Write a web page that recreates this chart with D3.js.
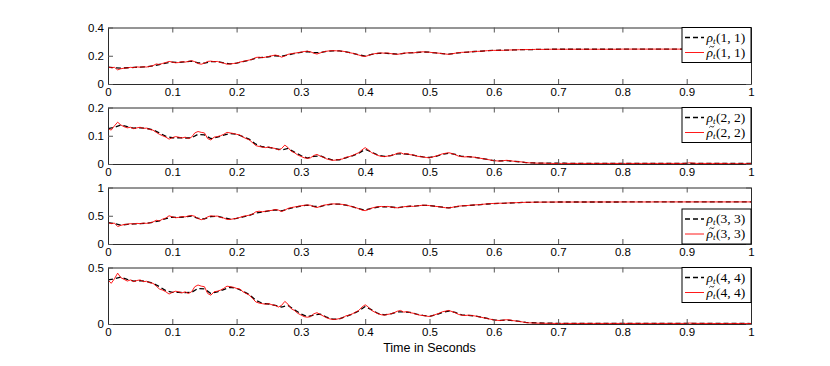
<!DOCTYPE html>
<html>
<head>
<meta charset="utf-8">
<script src="https://cdn.jsdelivr.net/npm/d3@7.9.0/dist/d3.min.js"></script>
<style>
  body { margin: 0; background: #fff; }
  svg { display: block; }
  .tick text { font-family: "Liberation Sans", Arial, sans-serif; font-size: 11.5px; fill: #000; }
  .legend text { font-family: "Liberation Serif", "DejaVu Serif", serif; font-size: 13.5px; fill: #000; }
</style>
</head>
<body>
<svg id="chart" width="830" height="366"></svg>
<script>
// time grids (seconds)
const tRed = d3.range(201).map(i => i / 200);
const tBlack = d3.range(101).map(i => i / 100);

// estimated rho_t(k,k) (black dashed), sampled every 0.01 s
const rho11 = [
  0.12,0.115,0.112,0.115,0.117,0.12,0.122,0.128,0.138,0.148,
  0.155,0.153,0.157,0.162,0.15,0.148,0.158,0.158,0.15,0.143,
  0.148,0.158,0.168,0.183,0.188,0.193,0.2,0.196,0.206,0.216,
  0.224,0.23,0.222,0.222,0.231,0.235,0.234,0.228,0.218,0.206,
  0.198,0.21,0.217,0.218,0.215,0.211,0.217,0.221,0.223,0.227,
  0.225,0.22,0.215,0.211,0.217,0.223,0.226,0.23,0.232,0.236,
  0.238,0.239,0.24,0.241,0.243,0.244,0.244,0.245,0.245,0.246,
  0.246,0.246,0.246,0.246,0.246,0.246,0.246,0.246,0.246,0.246,
  0.247,0.247,0.247,0.247,0.247,0.247,0.247,0.247,0.247,0.247,
  0.247,0.247,0.247,0.247,0.247,0.247,0.247,0.247,0.247,0.247,
  0.247
];
const rho22 = [
  0.125,0.13,0.138,0.132,0.127,0.128,0.126,0.121,0.11,0.098,
  0.093,0.093,0.092,0.093,0.105,0.103,0.09,0.095,0.102,0.108,
  0.105,0.097,0.087,0.07,0.061,0.059,0.055,0.05,0.055,0.042,
  0.03,0.021,0.027,0.029,0.02,0.014,0.015,0.022,0.029,0.038,
  0.052,0.042,0.031,0.027,0.03,0.036,0.036,0.034,0.029,0.025,
  0.023,0.027,0.034,0.038,0.034,0.027,0.026,0.024,0.02,0.016,
  0.012,0.011,0.012,0.01,0.008,0.005,0.004,0.003,0.003,0.003,
  0.003,0.003,0.002,0.002,0.002,0.002,0.002,0.002,0.002,0.002,
  0.002,0.002,0.002,0.002,0.002,0.002,0.002,0.002,0.002,0.002,
  0.002,0.002,0.002,0.002,0.002,0.002,0.002,0.002,0.002,0.002,
  0.002
];
const rho33 = [
  0.38,0.36,0.335,0.348,0.355,0.36,0.366,0.385,0.41,0.45,
  0.475,0.47,0.48,0.495,0.455,0.445,0.485,0.49,0.465,0.44,
  0.452,0.48,0.505,0.55,0.565,0.585,0.605,0.585,0.62,0.65,
  0.672,0.688,0.665,0.662,0.692,0.708,0.704,0.688,0.66,0.625,
  0.6,0.63,0.655,0.66,0.655,0.642,0.658,0.668,0.673,0.685,
  0.68,0.666,0.652,0.64,0.658,0.673,0.68,0.69,0.698,0.708,
  0.716,0.72,0.723,0.728,0.733,0.737,0.739,0.74,0.741,0.742,
  0.743,0.743,0.743,0.743,0.743,0.743,0.743,0.743,0.743,0.743,
  0.744,0.744,0.744,0.744,0.744,0.744,0.744,0.744,0.744,0.744,
  0.745,0.745,0.745,0.745,0.745,0.745,0.745,0.745,0.745,0.745,
  0.745
];
const rho44 = [
  0.39,0.4,0.415,0.395,0.38,0.383,0.377,0.362,0.33,0.295,
  0.28,0.28,0.277,0.28,0.315,0.31,0.27,0.285,0.305,0.325,
  0.315,0.29,0.26,0.21,0.183,0.177,0.165,0.15,0.165,0.125,
  0.09,0.063,0.08,0.088,0.06,0.042,0.045,0.066,0.088,0.115,
  0.155,0.125,0.093,0.08,0.09,0.108,0.108,0.102,0.087,0.076,
  0.068,0.082,0.102,0.115,0.102,0.08,0.077,0.072,0.061,0.049,
  0.037,0.032,0.036,0.03,0.023,0.014,0.011,0.009,0.008,0.007,
  0.006,0.006,0.006,0.006,0.006,0.006,0.006,0.006,0.006,0.006,
  0.005,0.005,0.005,0.005,0.005,0.005,0.005,0.005,0.005,0.005,
  0.005,0.005,0.005,0.005,0.005,0.005,0.005,0.005,0.005,0.005,
  0.004
];

// filtered rho~_t(k,k) (red), sampled every 0.005 s
const rhoHat11 = [
  0.12,0.115,0.118,0.10,0.108,0.112,0.114,0.118,0.116,0.121,0.119,0.122,0.12,0.125,0.13,0.142,0.138,0.146,0.152,0.16,
  0.155,0.15,0.152,0.158,0.155,0.16,0.165,0.158,0.145,0.14,0.148,0.16,0.162,0.158,0.16,0.152,0.148,0.14,0.142,0.145,
  0.148,0.155,0.16,0.165,0.17,0.175,0.188,0.19,0.186,0.19,0.195,0.2,0.205,0.2,0.19,0.198,0.21,0.215,0.218,0.222,
  0.225,0.23,0.232,0.228,0.218,0.212,0.22,0.228,0.232,0.235,0.236,0.235,0.234,0.232,0.228,0.222,0.218,0.212,0.205,0.198,
  0.195,0.202,0.21,0.215,0.218,0.22,0.218,0.22,0.215,0.212,0.21,0.214,0.218,0.22,0.222,0.22,0.224,0.226,0.228,0.226,
  0.225,0.222,0.22,0.218,0.215,0.212,0.21,0.214,0.218,0.222,0.224,0.225,0.226,0.228,0.23,0.231,0.232,0.234,0.236,0.237,
  0.238,0.238,0.239,0.238,0.24,0.241,0.241,0.242,0.243,0.243,0.244,0.244,0.244,0.245,0.245,0.245,0.245,0.246,0.246,0.246,
  0.246,0.246,0.246,0.246,0.246,0.246,0.246,0.246,0.246,0.246,0.246,0.246,0.246,0.246,0.246,0.246,0.246,0.246,0.246,0.246,
  0.247,0.247,0.247,0.247,0.247,0.247,0.247,0.247,0.247,0.247,0.247,0.247,0.247,0.247,0.247,0.247,0.247,0.247,0.247,0.247,
  0.247,0.247,0.247,0.247,0.247,0.247,0.247,0.247,0.247,0.247,0.247,0.247,0.247,0.247,0.247,0.247,0.247,0.247,0.247,0.247,
  0.247
];
const rhoHat22 = [
  0.125,0.12,0.135,0.148,0.138,0.132,0.128,0.13,0.125,0.128,0.13,0.126,0.127,0.122,0.12,0.112,0.105,0.1,0.095,0.088,
  0.093,0.097,0.095,0.092,0.095,0.09,0.095,0.11,0.115,0.112,0.11,0.09,0.085,0.095,0.097,0.1,0.105,0.112,0.11,0.108,
  0.105,0.103,0.095,0.09,0.085,0.075,0.065,0.062,0.06,0.058,0.06,0.057,0.055,0.05,0.055,0.067,0.058,0.045,0.04,0.032,
  0.027,0.022,0.02,0.022,0.03,0.034,0.028,0.024,0.018,0.015,0.013,0.014,0.016,0.018,0.024,0.026,0.03,0.035,0.04,0.05,
  0.058,0.05,0.04,0.035,0.03,0.027,0.026,0.028,0.03,0.033,0.038,0.04,0.035,0.037,0.033,0.032,0.028,0.026,0.025,0.023,
  0.022,0.025,0.028,0.032,0.036,0.038,0.04,0.037,0.033,0.028,0.026,0.025,0.026,0.025,0.024,0.022,0.02,0.018,0.016,0.014,
  0.012,0.011,0.01,0.012,0.013,0.012,0.01,0.009,0.008,0.007,0.005,0.004,0.004,0.003,0.003,0.003,0.003,0.002,0.002,0.002,
  0.002,0.002,0.002,0.002,0.002,0.002,0.002,0.002,0.002,0.002,0.002,0.002,0.002,0.002,0.002,0.002,0.002,0.002,0.002,0.002,
  0.002,0.002,0.002,0.002,0.002,0.002,0.002,0.002,0.002,0.002,0.002,0.002,0.002,0.002,0.002,0.002,0.002,0.002,0.002,0.002,
  0.003,0.004,0.003,0.002,0.002,0.002,0.002,0.002,0.002,0.002,0.002,0.002,0.002,0.001,0.001,0.001,0.001,0.001,0.001,0.001,
  0.001
];
const rhoHat33 = [
  0.38,0.36,0.37,0.31,0.33,0.345,0.35,0.36,0.355,0.365,0.36,0.37,0.365,0.375,0.39,0.42,0.41,0.44,0.46,0.5,
  0.48,0.465,0.47,0.485,0.48,0.495,0.505,0.49,0.45,0.43,0.445,0.48,0.5,0.49,0.495,0.47,0.46,0.435,0.435,0.445,
  0.455,0.47,0.49,0.5,0.51,0.53,0.57,0.58,0.57,0.58,0.59,0.595,0.61,0.6,0.575,0.6,0.63,0.645,0.655,0.665,
  0.675,0.685,0.69,0.685,0.66,0.645,0.665,0.685,0.695,0.705,0.71,0.708,0.705,0.7,0.69,0.675,0.66,0.645,0.625,0.6,
  0.59,0.61,0.635,0.65,0.66,0.665,0.66,0.665,0.655,0.645,0.64,0.648,0.66,0.665,0.67,0.665,0.675,0.68,0.688,0.685,
  0.68,0.672,0.665,0.66,0.65,0.642,0.638,0.648,0.66,0.67,0.675,0.678,0.682,0.688,0.692,0.695,0.7,0.705,0.71,0.715,
  0.718,0.72,0.722,0.72,0.725,0.728,0.73,0.732,0.735,0.736,0.738,0.739,0.74,0.74,0.741,0.741,0.742,0.742,0.743,0.743,
  0.743,0.743,0.743,0.743,0.743,0.743,0.743,0.743,0.743,0.743,0.744,0.744,0.744,0.744,0.744,0.744,0.744,0.744,0.744,0.744,
  0.744,0.744,0.744,0.744,0.744,0.744,0.744,0.744,0.744,0.744,0.745,0.745,0.745,0.745,0.745,0.745,0.745,0.745,0.745,0.745,
  0.745,0.745,0.745,0.745,0.745,0.745,0.745,0.745,0.745,0.745,0.745,0.745,0.745,0.745,0.745,0.745,0.745,0.745,0.745,0.745,
  0.745
];
const rhoHat44 = [
  0.39,0.36,0.4,0.45,0.41,0.395,0.38,0.39,0.375,0.385,0.39,0.375,0.378,0.365,0.36,0.335,0.31,0.3,0.285,0.265,
  0.28,0.29,0.285,0.275,0.285,0.27,0.285,0.33,0.345,0.335,0.33,0.27,0.255,0.285,0.29,0.3,0.315,0.335,0.33,0.325,
  0.315,0.31,0.285,0.27,0.255,0.225,0.195,0.185,0.18,0.175,0.18,0.17,0.165,0.15,0.165,0.2,0.175,0.135,0.12,0.095,
  0.08,0.065,0.06,0.065,0.09,0.1,0.085,0.07,0.055,0.045,0.04,0.042,0.048,0.055,0.072,0.078,0.09,0.105,0.12,0.15,
  0.17,0.15,0.12,0.105,0.09,0.082,0.078,0.085,0.09,0.1,0.113,0.12,0.105,0.11,0.1,0.095,0.085,0.078,0.075,0.07,
  0.066,0.075,0.085,0.095,0.108,0.114,0.12,0.11,0.1,0.085,0.078,0.075,0.078,0.075,0.072,0.066,0.06,0.054,0.048,0.042,
  0.036,0.033,0.03,0.035,0.038,0.036,0.03,0.026,0.022,0.018,0.012,0.01,0.009,0.008,0.007,0.007,0.006,0.006,0.006,0.005,
  0.005,0.005,0.005,0.005,0.005,0.005,0.005,0.005,0.005,0.005,0.005,0.005,0.005,0.005,0.005,0.005,0.005,0.005,0.005,0.005,
  0.005,0.005,0.005,0.005,0.005,0.005,0.005,0.005,0.005,0.005,0.005,0.005,0.005,0.005,0.005,0.005,0.005,0.005,0.005,0.005,
  0.006,0.008,0.006,0.005,0.005,0.005,0.005,0.005,0.005,0.004,0.004,0.004,0.004,0.004,0.004,0.004,0.004,0.004,0.004,0.004,
  0.004
];

// per-panel axis setup
const yMax = [0.4, 0.2, 1, 0.5];
const yTicks = [[0, 0.2, 0.4], [0, 0.1, 0.2], [0, 0.5, 1], [0, 0.5]];
const xTicks = [0, 0.1, 0.2, 0.3, 0.4, 0.5, 0.6, 0.7, 0.8, 0.9, 1];
const indexLabels = ['1, 1', '2, 2', '3, 3', '4, 4'];
const legendAtBottom = [false, false, true, false];

const panels = [
  { black: rho11, red: rhoHat11 },
  { black: rho22, red: rhoHat22 },
  { black: rho33, red: rhoHat33 },
  { black: rho44, red: rhoHat44 }
];

const svg = d3.select('#chart');
const left = 108, right = 751;
const panelTop = [27.5, 107.5, 187.5, 267.5];
const panelH = 56.5;

const x = d3.scaleLinear().domain([0, 1]).range([left, right]);
const fmt = d => d === 0 ? '0' : d === 1 ? '1' : d3.format('.1f')(d);

panels.forEach((p, i) => {
  const top = panelTop[i], bottom = top + panelH;
  const y = d3.scaleLinear().domain([0, yMax[i]]).range([bottom, top]);
  const g = svg.append('g');

  // curves (clipped to plot box)
  const clipId = 'clip' + i;
  svg.append('clipPath').attr('id', clipId)
    .append('rect').attr('x', left).attr('y', top).attr('width', right - left).attr('height', panelH);

  const line = d3.line().x(d => x(d[0])).y(d => y(d[1]));
  g.append('path')
    .datum(tBlack.map((t, k) => [t, p.black[k]]))
    .attr('clip-path', `url(#${clipId})`)
    .attr('d', line)
    .attr('fill', 'none').attr('stroke', '#000').attr('stroke-width', 1.3)
    .attr('stroke-dasharray', '5,3');
  g.append('path')
    .datum(tRed.map((t, k) => [t, p.red[k]]))
    .attr('clip-path', `url(#${clipId})`)
    .attr('d', line)
    .attr('fill', 'none').attr('stroke', '#ff0000').attr('stroke-width', 0.9)
    .attr('stroke-linejoin', 'round');

  // axes: ticks inward, box on
  const ax = (gen, tx) => {
    const a = g.append('g').attr('transform', tx).call(gen);
    a.select('.domain').attr('stroke', '#2b2b2b');
    a.selectAll('.tick line').attr('stroke', '#555');
    return a;
  };
  ax(d3.axisBottom(x).tickValues(xTicks).tickFormat(fmt).tickSizeInner(-5).tickSizeOuter(0).tickPadding(4),
     `translate(0,${bottom})`);
  ax(d3.axisTop(x).tickValues(xTicks).tickFormat('').tickSizeInner(-5).tickSizeOuter(0),
     `translate(0,${top})`);
  ax(d3.axisLeft(y).tickValues(yTicks[i]).tickFormat(fmt).tickSizeInner(-5).tickSizeOuter(0).tickPadding(4),
     `translate(${left},0)`);
  ax(d3.axisRight(y).tickValues(yTicks[i]).tickFormat('').tickSizeInner(-5).tickSizeOuter(0),
     `translate(${right},0)`);

  // legend
  const lw = 69, lh = 35;
  const lx = right - lw, ly = legendAtBottom[i] ? bottom - lh : top;
  const lg = g.append('g').attr('class', 'legend').attr('transform', `translate(${lx},${ly})`);
  lg.append('rect').attr('width', lw).attr('height', lh)
    .attr('fill', '#fff').attr('stroke', '#000').attr('stroke-width', 1);
  lg.append('line').attr('x1', 3).attr('x2', 22).attr('y1', 10).attr('y2', 10)
    .attr('stroke', '#000').attr('stroke-width', 1.3).attr('stroke-dasharray', '5,3');
  lg.append('line').attr('x1', 3).attr('x2', 22).attr('y1', 25).attr('y2', 25)
    .attr('stroke', '#ff0000').attr('stroke-width', 0.9);

  const label = (yy, hat) => {
    const tx = lg.append('text').attr('x', 24.5).attr('y', yy);
    tx.append('tspan').attr('font-style', 'italic').text('ρ');
    tx.append('tspan').attr('font-style', 'italic').attr('font-size', 9).attr('dy', 2).text('t');
    tx.append('tspan').attr('dy', -2).attr('dx', 0.5).text(`(${indexLabels[i]})`);
    if (hat) {
      lg.append('path')
        .attr('d', `M27.3,${yy - 9} q1.2,-2 2.5,-0.8 q1.3,1.2 2.5,-0.8`)
        .attr('fill', 'none').attr('stroke', '#000').attr('stroke-width', 0.8);
    }
  };
  label(14, false);
  label(29, true);
});

svg.append('text')
  .attr('x', (left + right) / 2).attr('y', 352)
  .attr('text-anchor', 'middle')
  .attr('font-family', '"Liberation Sans", Arial, sans-serif')
  .attr('font-size', 12.5)
  .text('Time in Seconds');
</script>
</body>
</html>
